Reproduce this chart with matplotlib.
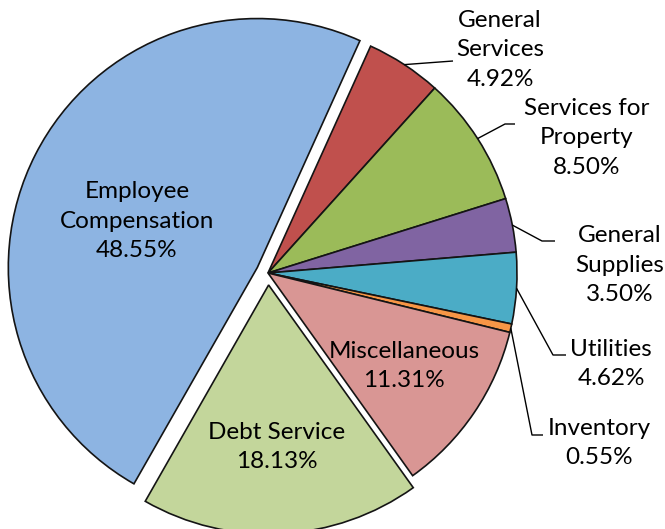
import matplotlib
matplotlib.use("Agg")
import matplotlib.pyplot as plt
import numpy as np

# Expense categories, in clockwise order starting with the large left slice
categories = ["Employee\nCompensation", "General\nServices", "Services for\nProperty",
              "General\nSupplies", "Utilities", "Inventory", "Miscellaneous", "Debt Service"]
shares = [48.55, 4.92, 8.50, 3.50, 4.62, 0.55, 11.31, 18.13]
colors = ["#8DB4E2", "#C0504D", "#9BBB59", "#8064A2", "#4BACC6", "#F79646", "#D99694", "#C3D69B"]

W, H = 665, 529
CENTER = (268, H - 273)
RADIUS = 249
explode = [12, 0, 0, 0, 0, 0, 0, 12]  # offsets in pixels

# label centres (pixel coords, y measured upward)
label_pos = {
    0: (137, H - 221),
    1: (500, H - 50),
    2: (587, H - 138),
    3: (620, H - 265),
    4: (611, H - 364),
    5: (599, H - 443),
    6: (404, H - 366),
    7: (277, H - 447),
}
# leader lines for the slim slices: (elbow, end) points
leaders = {
    1: [(453, H - 61)],
    2: [(505, H - 124), (515, H - 124)],
    3: [(542, H - 241), (555, H - 241)],
    4: [(553, H - 355), (566, H - 355)],
    5: [(532, H - 435), (543, H - 435)],
}

plt.rcParams["font.family"] = ["Lato", "DejaVu Sans"]

fig = plt.figure(figsize=(W / 100, H / 100), dpi=100)
ax = fig.add_axes([0, 0, 1, 1])

wedges, _ = ax.pie(shares, colors=colors, startangle=240.3, counterclock=False,
                   radius=RADIUS, center=CENTER, explode=explode,
                   wedgeprops=dict(edgecolor="#141414", linewidth=1.2))

ax.set_xlim(0, W)
ax.set_ylim(0, H)
ax.set_aspect("equal")
ax.axis("off")

for i, (name, val) in enumerate(zip(categories, shares)):
    x, y = label_pos[i]
    ax.text(x, y, f"{name}\n{val:.2f}%", ha="center", va="center",
            fontsize=17.5, linespacing=1.5, color="black")
    if i in leaders:
        w = wedges[i]
        mid = np.deg2rad(0.5 * (w.theta1 + w.theta2))
        cx, cy = w.center
        ax_pt = (cx + w.r * np.cos(mid), cy + w.r * np.sin(mid))
        pts = [ax_pt] + leaders[i]
        xs, ys = zip(*pts)
        ax.plot(xs, ys, color="black", linewidth=1.0, solid_capstyle="butt")

fig.savefig("out.png", dpi=100, facecolor="white")
